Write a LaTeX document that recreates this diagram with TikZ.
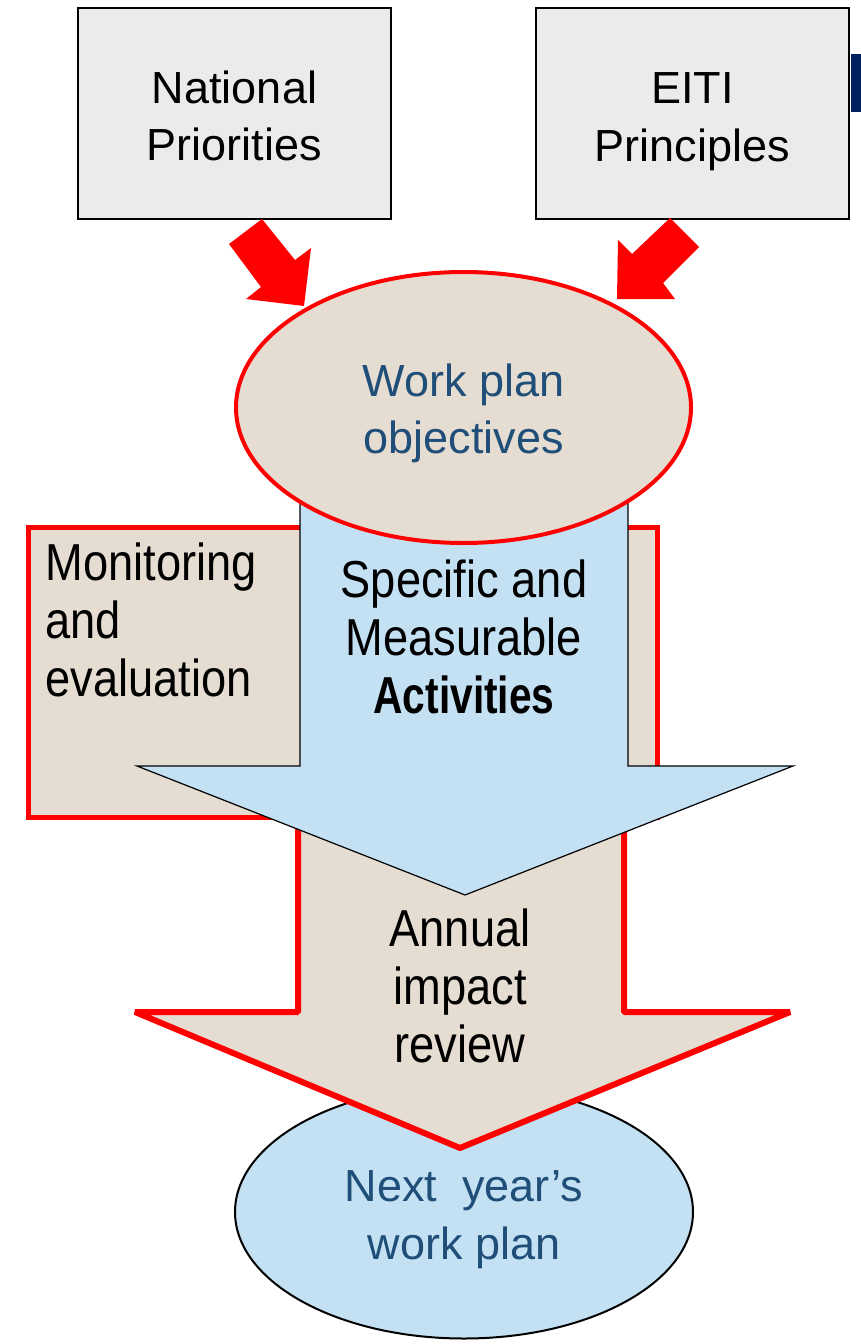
\documentclass[tikz,border=0pt]{standalone}
\usepackage{graphicx}
\usepackage{fontspec}
\setmainfont{Liberation Sans}
\newfontfamily\condfont[FakeStretch=0.87]{Liberation Sans}
\usetikzlibrary{shapes.geometric}
\definecolor{boxgray}{HTML}{EBEBEB}
\definecolor{beige}{HTML}{E5DCD2}
\definecolor{paleblue}{HTML}{C4E1F4}
\definecolor{planblue}{HTML}{1F4E79}
\definecolor{navybar}{HTML}{002060}
\begin{document}
\begin{tikzpicture}[x=0.5pt, y=-0.5pt]
	    \tikzset{
	      topbox/.style={draw=black, line width=1pt, fill=boxgray, minimum width=156.5pt, minimum height=105.5pt, inner sep=0pt},
	      toptext/.style={inner sep=0pt, align=center, font=\fontsize{22.5}{28.75}\selectfont},
	      planoval/.style={ellipse, inner sep=0pt},
	      plantext/.style={inner sep=0pt, align=center, text=planblue, font=\fontsize{22.5}{28.75}\selectfont},
	      condtext/.style={inner sep=0pt, font=\condfont\fontsize{26}{29}\selectfont}
	    }
	    \useasboundingbox (0,0) rectangle (861,1344);
	    \fill[white] (0,0) rectangle (861,1344);
	    % next year's plan, behind the review arrow
	    \node[planoval, draw=black, line width=1pt, fill=paleblue, minimum width=229pt, minimum height=126.5pt] (nextplan) at (464,1212) {};
	    \node[plantext] (nextplantext) at (464,1219.5) {Next\ \ year’s\\work plan};
	    % monitoring frame
	    \filldraw[fill=beige, draw=red, line width=2.5pt] (28.5,527.5) rectangle (657.5,817.5);
	    \node[condtext, anchor=west, align=left] (monitoring) at (45,619.5) {Monitoring\\and\\evaluation};
	    % review arrow
	    \fill[beige] (298,790) -- (298,1012) -- (135,1012) -- (460,1148) -- (790,1012) -- (624,1012) -- (624,790) -- cycle;
	    \draw[red, line width=3pt, line join=bevel] (298,790) -- (298,1012) -- (135,1012) -- (460,1148) -- (790,1012) -- (624,1012) -- (624,790);
	    \node[condtext, align=center] (review) at (460,985.5) {Annual\\impact\\review};
	    % activities arrow
	    \filldraw[fill=paleblue, draw=black, line width=0.6pt] (300,470) -- (300,766) -- (137,766) -- (465,895) -- (793,766) -- (628,766) -- (628,470) -- cycle;
	    \node[condtext, align=center] (activities) at (464,637) {Specific and\\Measurable\\\scalebox{0.9}[1]{\textbf{Activities}}};
	    % objectives
	    \node[planoval, draw=red, line width=2pt, fill=beige, minimum width=227.5pt, minimum height=135.5pt] (objectives) at (463.5,407.5) {};
	    \node[plantext] (objectivestext) at (463.5,413.5) {Work plan\\objectives};
	    % top boxes
	    \fill[navybar] (851,54) rectangle (861,112);
	    \node[topbox] (natpri) at (234.5,113.5) {};
	    \node[toptext] (natpritext) at (234.5,116) {National\\Priorities};
	    \node[topbox] (eiti) at (692.5,113.5) {};
	    \node[toptext] (eititext) at (692.5,121.5) {EITI\\Principles};
	    % red arrows
	    \fill[red] (229,244) -- (262,219) -- (295,260) -- (311,248) -- (304,306) -- (246,299) -- (261,287) -- cycle;
	    \fill[red] (670,218) -- (699,247) -- (663,283) -- (675,299) -- (617,299) -- (618,240) -- (632,254) -- cycle;
	\end{tikzpicture}
\end{document}
